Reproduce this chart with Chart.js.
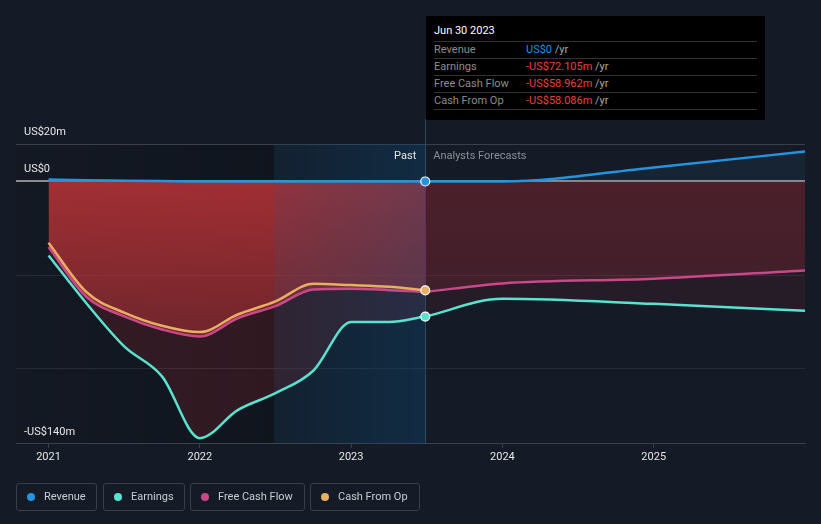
<!DOCTYPE html>
<html>
<head>
<meta charset="utf-8">
<script src="https://cdn.jsdelivr.net/npm/chart.js@4.4.0/dist/chart.umd.min.js"></script>
<style>
  html, body { margin: 0; padding: 0; background: #151b26; }
  body { width: 821px; height: 524px; position: relative; overflow: hidden; font-family: Roboto, sans-serif; }
  #wrap { position: absolute; left: 0; top: 0; width: 821px; height: 524px; }
  #tip { position: absolute; left: 426px; top: 16px; width: 339px; height: 104px; background: #000; box-sizing: border-box; padding: 6px 8px 0 8px; font-size: 11px; }
  #tip .title { color: #fff; line-height: 18px; height: 19px; }
  #tip .row { border-top: 1px solid #333; line-height: 16px; height: 16px; white-space: nowrap; }
  #tip .row:last-child { border-bottom: 1px solid #333; }
  #tip .lab { display: inline-block; width: 92px; color: #8c8c8c; }
  #tip .blue { color: #2394df; }
  #tip .red { color: #ec3f3f; }
  #tip .unit { color: #a8a8a8; }
  .leg { position: absolute; top: 483px; height: 28px; box-sizing: border-box; border: 1px solid #393f49; border-radius: 3px;
         color: #c9cdd3; font-size: 11px; line-height: 26px; padding-left: 10px; white-space: nowrap; }
  .leg i { display: inline-block; width: 8px; height: 8px; border-radius: 50%; margin-right: 9px; vertical-align: -0.5px; }
</style>
</head>
<body>
<div id="wrap"><canvas id="chart"></canvas></div>

<div id="tip">
  <div class="title">Jun 30 2023</div>
  <div class="row"><span class="lab">Revenue</span><span class="blue">US$0</span> <span class="unit">/yr</span></div>
  <div class="row"><span class="lab">Earnings</span><span class="red">-US$72.105m</span> <span class="unit">/yr</span></div>
  <div class="row"><span class="lab">Free Cash Flow</span><span class="red">-US$58.962m</span> <span class="unit">/yr</span></div>
  <div class="row"><span class="lab">Cash From Op</span><span class="red">-US$58.086m</span> <span class="unit">/yr</span></div>
</div>

<div class="leg" style="left:16px;width:81px"><i style="background:#2394df"></i>Revenue</div>
<div class="leg" style="left:103px;width:82px"><i style="background:#58e2cf"></i>Earnings</div>
<div class="leg" style="left:190px;width:115px"><i style="background:#c9488a"></i>Free Cash Flow</div>
<div class="leg" style="left:310px;width:110px"><i style="background:#e8ae62"></i>Cash From Op</div>

<script>
// decimal years, quarterly history up to Jun 30 2023, then analyst forecasts
const pastYears = [2021.0, 2021.25, 2021.5, 2021.75, 2022.0, 2022.25, 2022.5, 2022.75, 2023.0, 2023.25, 2023.49];
const revenuePast = [1.0, 0.6, 0.4, 0.2, 0, 0, 0, 0, 0, 0, 0];
const earningsPast = [-39.5, -65, -88, -104, -137, -122, -113, -101, -75, -75, -72.105];
const fcfPast = [-35, -61.5, -72, -79, -82.7, -73, -66.5, -57.6, -57.2, -58, -58.962];
const cfoPast = [-32.7, -59, -70, -77, -80.4, -71, -64, -54.6, -55.3, -56.2, -58.086];

const futureYears = [2023.49, 2024.0, 2025.0, 2026.0];
const revenueFuture = [0, 0, 7.5, 16];
const earningsFuture = [-72.105, -62.6, -65.3, -69];
const fcfFuture = [-58.962, -54.4, -51.9, -47.5];

const yearTicks = [2021, 2022, 2023, 2024, 2025];
const yGrid = [-140, -100, -50, 0, 20];
const yLabels = { 20: 'US$20m', 0: 'US$0', '-140': '-US$140m' };

const PRESENT = 2023.49;
const LAST_YEAR = 2022.49;
const X_MIN = 2020.785;
const X_MAX = 2026.0;

const pts = (xs, ys) => xs.map((x, i) => ({ x: x, y: ys[i] }));
const lastDot = r => c => c.dataIndex === c.dataset.data.length - 1 ? r : 0;

function redFill(top, bottom, rgb) {
  return function (c) {
    const chart = c.chart;
    const area = chart.chartArea;
    if (!area) return 'transparent';
    const y0 = chart.scales.y.getPixelForValue(0);
    const g = chart.ctx.createLinearGradient(0, y0, 0, area.bottom);
    g.addColorStop(0, 'rgba(' + rgb + ',' + top + ')');
    g.addColorStop(1, 'rgba(' + rgb + ',' + bottom + ')');
    return g;
  };
}

const backdrop = {
  id: 'backdrop',
  beforeDraw(chart) {
    const { ctx, chartArea: a, scales: { x } } = chart;
    const x1 = x.getPixelForValue(LAST_YEAR);
    const g = ctx.createLinearGradient(a.left, 0, x1, 0);
    g.addColorStop(0, 'rgba(5,8,12,0.08)');
    g.addColorStop(1, 'rgba(5,8,12,0.3)');
    ctx.save();
    ctx.fillStyle = g;
    ctx.fillRect(a.left, a.top, x1 - a.left, a.bottom - a.top);
    ctx.restore();
  },
  beforeDatasetsDraw(chart) {
    const { ctx, chartArea: a, scales: { x } } = chart;
    const x1 = x.getPixelForValue(LAST_YEAR);
    const x2 = x.getPixelForValue(PRESENT);
    const g = ctx.createLinearGradient(x1, 0, x2, 0);
    g.addColorStop(0, 'rgba(10,80,130,0.12)');
    g.addColorStop(1, 'rgba(10,80,130,0.32)');
    ctx.save();
    ctx.fillStyle = g;
    ctx.fillRect(x1, a.top, x2 - x1, a.bottom - a.top);
    ctx.strokeStyle = '#2b4a60';
    ctx.lineWidth = 1;
    ctx.beginPath();
    ctx.moveTo(Math.round(x2) + 0.5, 119);
    ctx.lineTo(Math.round(x2) + 0.5, a.bottom);
    ctx.stroke();
    ctx.restore();
  },
  afterDraw(chart) {
    const { ctx, scales: { x, y } } = chart;
    ctx.save();
    ctx.font = '11px Roboto';
    ctx.textBaseline = 'middle';
    ctx.fillStyle = '#e6e6e6';
    ctx.textAlign = 'left';
    Object.keys(yLabels).forEach(v => {
      ctx.fillText(yLabels[v], 24, y.getPixelForValue(Number(v)) - 12);
    });
    const px = x.getPixelForValue(PRESENT);
    ctx.textAlign = 'right';
    ctx.fillStyle = '#e6e6e6';
    ctx.fillText('Past', px - 9, 156);
    ctx.textAlign = 'left';
    ctx.fillStyle = '#8a9099';
    ctx.fillText('Analysts Forecasts', px + 8, 156);
    ctx.restore();
  }
};

const line = (data, color, extra) => Object.assign({
  data: data,
  borderColor: color,
  borderWidth: 2.5,
  cubicInterpolationMode: 'monotone',
  pointRadius: 0,
  pointBackgroundColor: color,
  pointBorderColor: '#ffffff',
  pointBorderWidth: 1.2,
  fill: false
}, extra || {});

new Chart(document.getElementById('chart'), {
  type: 'line',
  data: {
    datasets: [
      line(pts(pastYears, revenuePast), '#2394df', { pointRadius: lastDot(4.5) }),
      line(pts(futureYears, revenueFuture), '#2394df', { fill: 'origin', backgroundColor: 'rgba(35,148,223,0.08)' }),
      line(pts(pastYears, cfoPast), '#e8ae62', { pointRadius: lastDot(4.5) }),
      line(pts(pastYears, fcfPast), '#c9488a', { fill: 'origin', backgroundColor: redFill(0.8, 0.2, '190,52,56') }),
      line(pts(futureYears, fcfFuture), '#c9488a', { fill: 'origin', backgroundColor: redFill(0.24, 0.08, '200,45,55') }),
      line(pts(pastYears, earningsPast), '#58e2cf', { pointRadius: lastDot(4.5), fill: 'origin', backgroundColor: 'rgba(200,45,50,0.18)' }),
      line(pts(futureYears, earningsFuture), '#58e2cf', { fill: 'origin', backgroundColor: 'rgba(200,40,50,0.09)' })
    ]
  },
  options: {
    responsive: true,
    maintainAspectRatio: false,
    animation: false,
    events: [],
    layout: { padding: { left: 16, right: 16, top: 144, bottom: 57 } },
    plugins: {
      legend: { display: false },
      tooltip: { enabled: false },
      filler: { drawTime: 'beforeDatasetsDraw' }
    },
    scales: {
      x: {
        type: 'linear',
        min: X_MIN,
        max: X_MAX,
        afterBuildTicks: s => { s.ticks = yearTicks.map(v => ({ value: v })); },
        ticks: { color: '#e6e6e6', font: { family: 'Roboto', size: 11 }, padding: 3, maxRotation: 0, autoSkip: false, callback: v => String(v) },
        grid: { drawOnChartArea: false, drawTicks: true, tickLength: 4, color: '#3b414b' },
        border: { display: true, color: '#3b414b' }
      },
      y: {
        min: -140,
        max: 20,
        afterBuildTicks: s => { s.ticks = yGrid.map(v => ({ value: v })); },
        ticks: { display: false },
        grid: {
          drawTicks: false,
          color: c => c.tick.value === 0 ? '#8c8c8c' : (c.tick.value === 20 ? '#3a3f48' : '#262c36'),
          lineWidth: c => c.tick.value === 0 ? 2 : 1
        },
        border: { display: false }
      }
    }
  },
  plugins: [backdrop]
});
</script>
</body>
</html>
